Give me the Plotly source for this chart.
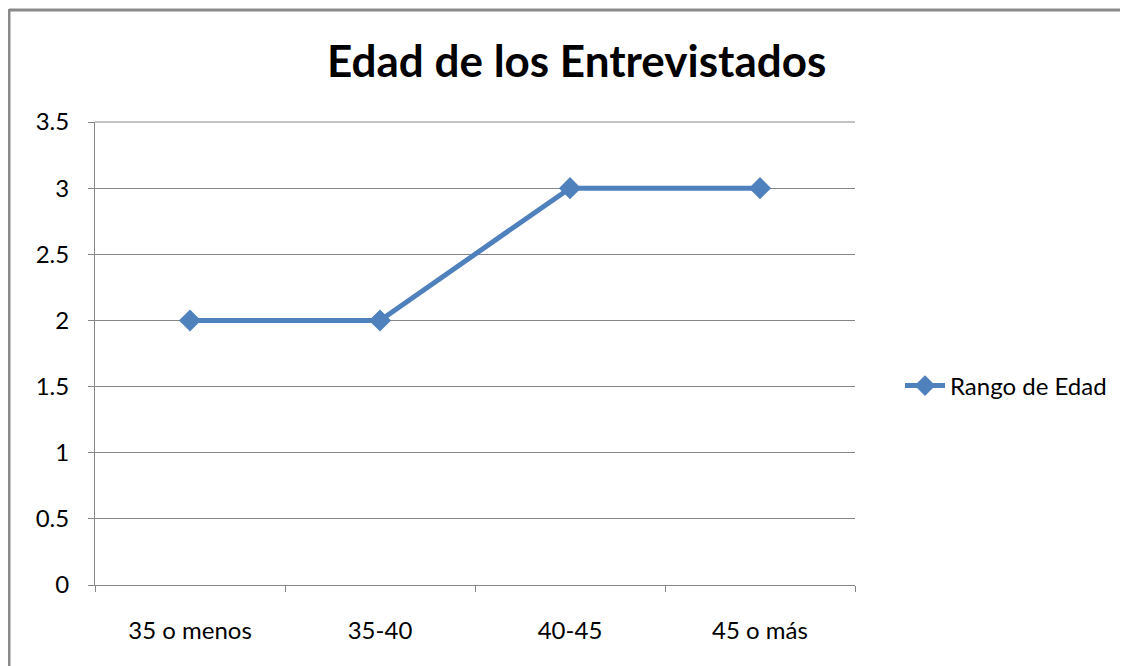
import plotly.graph_objects as go

categories = ["35 o menos", "35-40", "40-45", "45 o más"]
values = [2, 2, 3, 3]
series_name = "Rango de Edad"
title_text = "Edad de los Entrevistados"

OFF = 8  # page body margin
W, H = 1128 - OFF, 666 - OFF
L, R, T, B = 95 - OFF, 273, 122 - OFF, 81
pw, ph = W - L - R, H - T - B

def px_x(x):
    return (x - OFF - L) / pw

def px_y(y):
    return (H - B - (y - OFF)) / ph

font = "Lato, 'Open Sans', sans-serif"
blue = "#4F81BD"
grid = "#868686"
fs = 24

fig = go.Figure()
fig.add_trace(go.Scatter(
    x=categories, y=values, name=series_name, mode="lines+markers",
    line=dict(color=blue, width=5),
    marker=dict(symbol="diamond", size=17, color=blue),
))

fig.update_layout(
    width=W, height=H,
    margin=dict(l=L, r=R, t=T, b=B, autoexpand=False),
    paper_bgcolor="white", plot_bgcolor="white",
    font=dict(family=font, size=fs, color="#000000"),
    showlegend=True,
    legend=dict(x=px_x(900), y=px_y(386), xanchor="left", yanchor="middle",
                font=dict(size=fs), itemwidth=40, bgcolor="rgba(0,0,0,0)"),
    xaxis=dict(type="category", range=[-0.5, 3.5], tickson="boundaries",
               showgrid=False, showline=True, linecolor=grid, linewidth=1,
               ticks="outside", ticklen=6, tickcolor=grid,
               ticklabelstandoff=24, tickfont=dict(size=fs)),
    yaxis=dict(range=[0, 3.5], dtick=0.5,
               showgrid=True, gridcolor=grid, gridwidth=1,
               showline=True, linecolor=grid, linewidth=1,
               ticks="outside", ticklen=6, tickcolor=grid,
               zeroline=False, ticklabelstandoff=14, tickfont=dict(size=fs)),
    annotations=[dict(text="<b>%s</b>" % title_text, x=px_x(576), y=px_y(60),
                      xref="paper", yref="paper", xanchor="center", yanchor="middle",
                      showarrow=False, font=dict(size=44, family=font, color="#000000"))],
    shapes=[
        dict(type="line", xref="paper", yref="paper", x0=px_x(9), x1=px_x(1140),
             y0=px_y(10), y1=px_y(10), line=dict(color="#8a8a8a", width=3)),
        dict(type="line", xref="paper", yref="paper", x0=px_x(9), x1=px_x(9),
             y0=px_y(9), y1=px_y(680), line=dict(color="#8a8a8a", width=3)),
        dict(type="line", xref="paper", yref="paper", x0=0, x1=1,
             y0=1, y1=1, line=dict(color=grid, width=1), layer="below"),
    ],
)

fig.write_html("out.html")
